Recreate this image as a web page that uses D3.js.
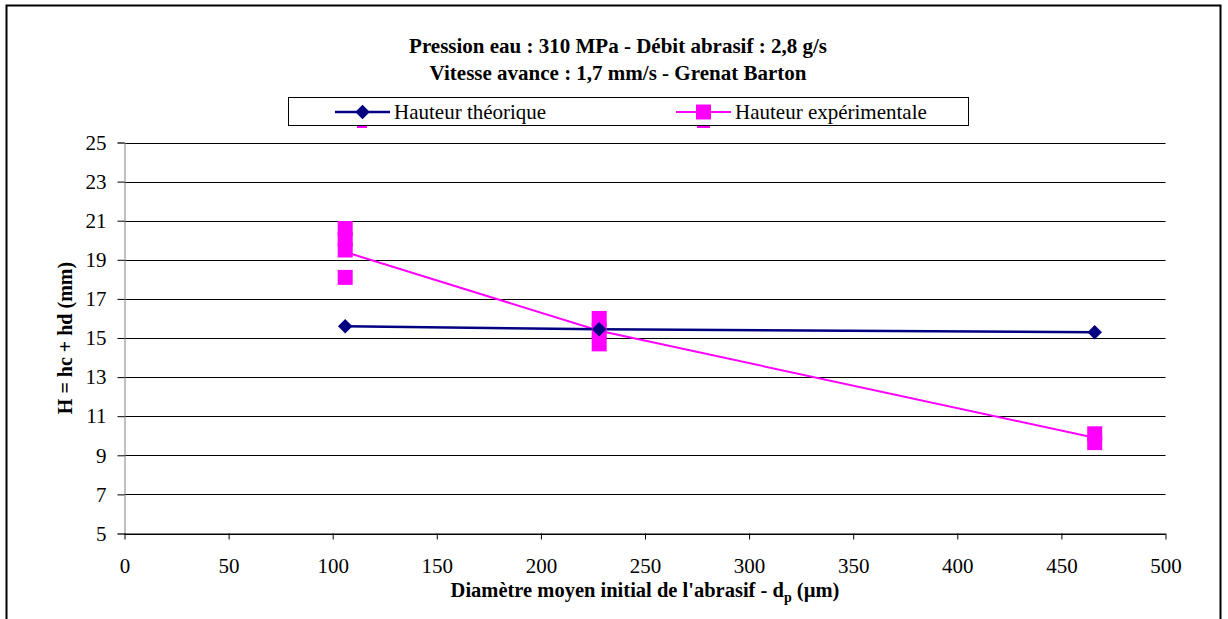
<!DOCTYPE html>
<html>
<head>
<meta charset="utf-8">
<script src="https://cdn.jsdelivr.net/npm/d3@7"></script>
<style>
  body { margin: 0; background: #fff; }
  svg, svg text { font-family: "Liberation Serif", "DejaVu Serif", serif !important; }
</style>
</head>
<body>
<svg id="chart" width="1228" height="619"></svg>
<script>
const titleLines = ["Pression eau : 310 MPa - Débit abrasif : 2,8 g/s", "Vitesse avance : 1,7 mm/s - Grenat Barton"];
const seriesNames = ["Hauteur théorique", "Hauteur expérimentale"];
const theoX = [106, 228, 466];
const theoY = [15.6, 15.45, 15.3];
const expX = [106, 106, 106, 106, 228, 228, 228, 466, 466];
const expY = [20.6, 20.05, 19.5, 18.1, 16.0, 15.4, 14.7, 10.1, 9.65];
const expMeanX = [106, 228, 466];
const expMeanY = [19.4, 15.37, 9.9];
const xTicks = [0, 50, 100, 150, 200, 250, 300, 350, 400, 450, 500];
const yTicks = [5, 7, 9, 11, 13, 15, 17, 19, 21, 23, 25];

const FONT = "'Liberation Serif', 'DejaVu Serif', serif";
const svg = d3.select("#chart");
const pLeft = 124.5, pRight = 1165.5, pTop = 142.5, pBottom = 533.5;
const x = d3.scaleLinear().domain([0, 500]).range([pLeft, pRight]);
const y = d3.scaleLinear().domain([5, 25]).range([pBottom, pTop]);

// outer frame
svg.append("path").attr("d", "M6.5,630 V5.5 H1220.5 V630").attr("fill", "none").attr("stroke", "#000").attr("stroke-width", 2);

// grid lines
svg.append("g").selectAll("line").data(yTicks).join("line")
  .attr("x1", pLeft).attr("x2", pRight)
  .attr("y1", d => Math.round(y(d)) + 0.5).attr("y2", d => Math.round(y(d)) + 0.5)
  .attr("stroke", "#000").attr("stroke-width", 1);

// y axis
const yAxis = d3.axisLeft(y).tickValues(yTicks).tickSize(7).tickPadding(11);
const gy = svg.append("g").attr("transform", `translate(${pLeft},0)`).call(yAxis);
gy.attr("font-family", FONT).attr("font-size", 21);
gy.select(".domain").attr("stroke", "#808080");
gy.selectAll(".tick line").attr("stroke", "#000");
gy.selectAll("text").attr("fill", "#000");

// x axis
const xAxis = d3.axisBottom(x).tickValues(xTicks).tickSize(6).tickPadding(19);
const gx = svg.append("g").attr("transform", `translate(0,${pBottom})`).call(xAxis);
gx.attr("font-family", FONT).attr("font-size", 21);
gx.select(".domain").attr("stroke", "#000").attr("d", `M${pLeft},0.5H${pRight}`);
gx.selectAll(".tick line").attr("stroke", "#000");
gx.selectAll("text").attr("fill", "#000");

// experimental line through means
const line = d3.line().x(d => x(d[0])).y(d => y(d[1]));
svg.append("path").datum(expMeanX.map((v, i) => [v, expMeanY[i]]))
  .attr("d", line).attr("fill", "none").attr("stroke", "#ff00ff").attr("stroke-width", 2);

// theoretical line
svg.append("path").datum(theoX.map((v, i) => [v, theoY[i]]))
  .attr("d", line).attr("fill", "none").attr("stroke", "#000080").attr("stroke-width", 2.5);

// experimental markers
const sq = 15;
svg.append("g").selectAll("rect").data(expX.map((v, i) => [v, expY[i]])).join("rect")
  .attr("x", d => x(d[0]) - sq / 2).attr("y", d => y(d[1]) - sq / 2)
  .attr("width", sq).attr("height", sq).attr("fill", "#ff00ff");

// theoretical markers (diamonds)
const diamond = d3.symbol().type(d3.symbolSquare).size(105);
svg.append("g").selectAll("path").data(theoX.map((v, i) => [v, theoY[i]])).join("path")
  .attr("d", diamond)
  .attr("transform", d => `translate(${x(d[0])},${y(d[1])}) rotate(45)`)
  .attr("fill", "#000080");

// title
svg.append("g").selectAll("text").data(titleLines).join("text")
  .attr("x", 618).attr("y", (d, i) => 53 + i * 27)
  .attr("text-anchor", "middle").attr("font-weight", "bold").attr("font-size", 21)
  .attr("font-family", FONT)
  .text(d => d);

// legend
const lg = svg.append("g").attr("font-family", FONT);
lg.append("rect").attr("x", 288.5).attr("y", 97.5).attr("width", 680).attr("height", 28)
  .attr("fill", "#fff").attr("stroke", "#000").attr("stroke-width", 1);
lg.append("rect").attr("x", 357).attr("y", 126).attr("width", 10).attr("height", 2).attr("fill", "#ff00ff");
lg.append("rect").attr("x", 697).attr("y", 126).attr("width", 13).attr("height", 2).attr("fill", "#ff00ff");
const legendItems = [
  { x0: 335, x1: 390, name: seriesNames[0], color: "#000080", marker: "diamond", w: 2.5 },
  { x0: 676, x1: 731, name: seriesNames[1], color: "#ff00ff", marker: "square", w: 2 }
];
legendItems.forEach(it => {
  lg.append("line").attr("x1", it.x0).attr("x2", it.x1).attr("y1", 112).attr("y2", 112)
    .attr("stroke", it.color).attr("stroke-width", it.w);
  const cx = (it.x0 + it.x1) / 2;
  if (it.marker === "diamond") {
    lg.append("path").attr("d", diamond).attr("transform", `translate(${cx},112) rotate(45)`).attr("fill", it.color);
  } else {
    lg.append("rect").attr("x", cx - 7.5).attr("y", 104.5).attr("width", 15).attr("height", 15).attr("fill", it.color);
  }
  lg.append("text").attr("x", it.x1 + 4).attr("y", 119).attr("font-size", 21).text(it.name);
});

// y axis label
svg.append("text").attr("transform", `translate(72,338) rotate(-90)`)
  .attr("text-anchor", "middle").attr("font-weight", "bold").attr("font-size", 20)
  .attr("font-family", FONT)
  .text("H = hc + hd (mm)");

// x axis label
const xl = svg.append("text").attr("x", 645).attr("y", 597)
  .attr("text-anchor", "middle").attr("font-weight", "bold").attr("font-size", 20.5)
  .attr("font-family", FONT);
xl.append("tspan").text("Diamètre moyen initial de l'abrasif - d");
xl.append("tspan").attr("dy", 5).attr("font-size", 14).text("p");
xl.append("tspan").attr("dy", -5).text(" (µm)");
</script>
</body>
</html>
